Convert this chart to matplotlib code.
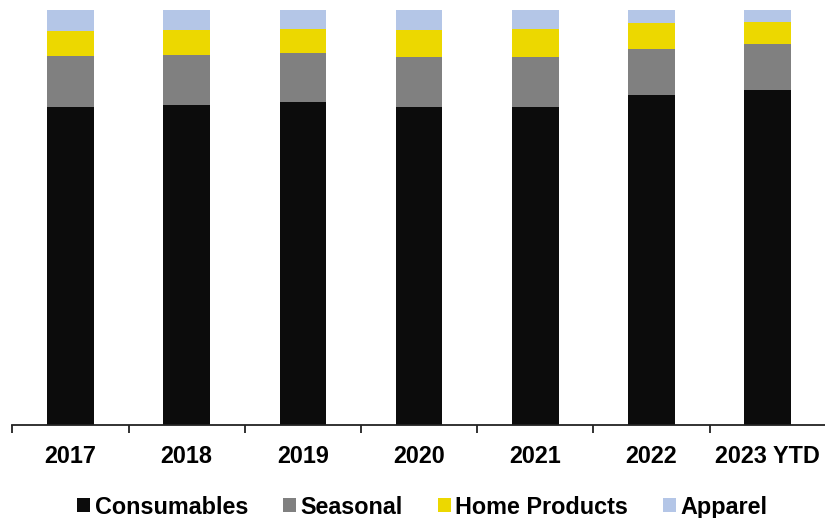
#!/usr/bin/env python3

import numpy as np
import matplotlib
matplotlib.use('Agg')
import matplotlib.pyplot as plt
from matplotlib.patches import Patch

plt.rcParams['font.family'] = ['Liberation Sans', 'DejaVu Sans']
plt.rcParams['font.weight'] = 'bold'

YEARS = ['2017', '2018', '2019', '2020', '2021', '2022', '2023 YTD']

# share of net sales (%), bottom to top
CONSUMABLES = [76.8, 77.3, 77.8, 76.7, 76.7, 79.5, 80.8]
SEASONAL = [12.1, 12.0, 11.9, 12.1, 12.1, 11.2, 11.1]
HOME = [6.1, 6.0, 5.9, 6.5, 6.8, 6.3, 5.3]
APPAREL = [5.0, 4.7, 4.4, 4.7, 4.4, 3.0, 2.8]

LABELZ = ['Consumables', 'Seasonal', 'Home Products', 'Apparel']
COLZ = ['#0c0c0c', '#808080', '#ecd800', '#b4c6e7']

fig = plt.figure(figsize=(8.25, 5.18), dpi=100)
ax = fig.add_axes([0.0149, 0.179, 0.9861, 0.801])

x = np.arange(len(YEARS))
bottom = np.zeros(len(YEARS))
for vals, col in zip([CONSUMABLES, SEASONAL, HOME, APPAREL], COLZ):
    vals = np.array(vals)
    ax.bar(x, vals, width=0.4, bottom=bottom, color=col, edgecolor='none')
    bottom += vals

ax.set_xlim(-0.5, len(YEARS) - 0.5)
ax.set_ylim(0, 100)

for s in ['top', 'right', 'left']:
    ax.spines[s].set_visible(False)
ax.spines['bottom'].set_linewidth(1.3)
ax.spines['bottom'].set_color('#222222')

ax.set_yticks([])
ax.set_xticks(x)
ax.set_xticklabels(YEARS, fontsize=16.8, fontweight='bold')
ax.tick_params(axis='x', which='major', length=0, pad=14)
ax.set_xticks(np.arange(-0.5, len(YEARS), 1), minor=True)
ax.tick_params(axis='x', which='minor', length=6, width=1.3, color='#222222', direction='out')

handles = [Patch(facecolor=c, edgecolor='none') for c in COLZ]
fig.legend(handles, LABELZ, loc='center', bbox_to_anchor=(0.512, 0.021),
           ncol=4, frameon=False, fontsize=16.8, handlelength=0.55,
           handleheight=0.55, handletextpad=0.2, columnspacing=1.5,
           borderaxespad=0, borderpad=0)

fig.savefig('out.png', dpi=100)
